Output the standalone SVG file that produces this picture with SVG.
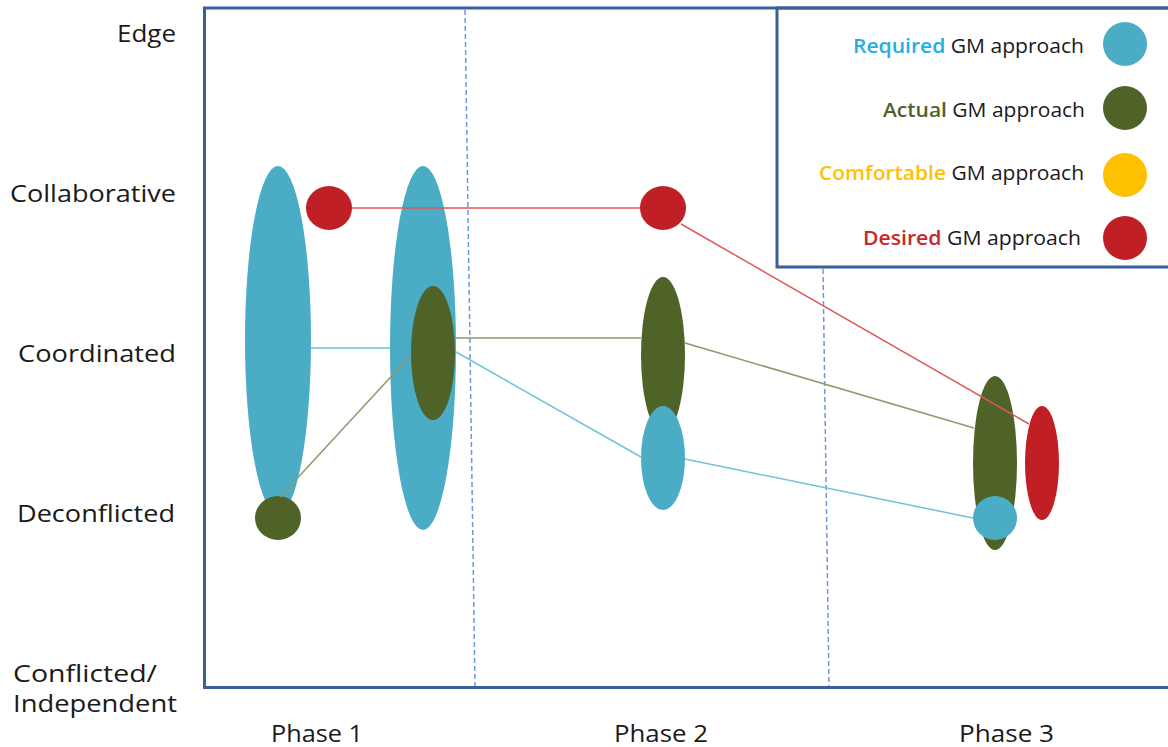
<svg xmlns="http://www.w3.org/2000/svg" width="1168" height="747" viewBox="0 0 1168 747">
<style>
text{font-family:"Open Sans","Noto Sans","Liberation Sans",sans-serif;fill:#1a1a1a}
.ax{font-size:23px}
.lg{font-size:20px}
.frame{fill:none;stroke:#3B5E98;stroke-width:3}
.dash{stroke:#6F96D6;stroke-width:1.5;stroke-dasharray:5 3;fill:none}
.req{fill:#4BACC6}
.act{fill:#4F6228}
.com{fill:#FFC000}
.des{fill:#C01F26}
.lr{stroke:#E0575B;stroke-width:1.5;fill:none}
.lb{stroke:#6EC4D8;stroke-width:1.5;fill:none}
.lgn{stroke:#8C9A6C;stroke-width:1.5;fill:none}
</style>
<rect width="1168" height="747" fill="#ffffff"/>
<g id="axes">
<path class="frame" d="M1170 8 H204.5 V687.5 H1170"/>
<line class="dash" x1="465" y1="10" x2="475" y2="686"/>
<line class="dash" x1="823" y1="269" x2="829" y2="686"/>
</g>
<g id="y-labels">
<text class="ax" x="117" y="42" textLength="59" lengthAdjust="spacingAndGlyphs">Edge</text>
<text class="ax" x="10" y="202" textLength="166" lengthAdjust="spacingAndGlyphs">Collaborative</text>
<text class="ax" x="18" y="362" textLength="158" lengthAdjust="spacingAndGlyphs">Coordinated</text>
<text class="ax" x="17" y="522" textLength="158" lengthAdjust="spacingAndGlyphs">Deconflicted</text>
<text class="ax" x="13" y="682" textLength="144" lengthAdjust="spacingAndGlyphs">Conflicted/</text>
<text class="ax" x="13" y="712" textLength="164" lengthAdjust="spacingAndGlyphs">Independent</text>
</g>
<g id="x-labels">
<text class="ax" x="271" y="742" textLength="92" lengthAdjust="spacingAndGlyphs">Phase 1</text>
<text class="ax" x="614" y="742" textLength="94" lengthAdjust="spacingAndGlyphs">Phase 2</text>
<text class="ax" x="959" y="742" textLength="95" lengthAdjust="spacingAndGlyphs">Phase 3</text>
</g>
<g id="legend">
<rect class="frame" x="777" y="8" width="400" height="259"/>
<text class="lg" x="853" y="53" textLength="231" lengthAdjust="spacingAndGlyphs"><tspan style="fill:#22AEE2;font-weight:600">Required</tspan> GM approach</text>
<ellipse class="req" cx="1125" cy="44" rx="22" ry="22"/>
<text class="lg" x="883" y="117" textLength="202" lengthAdjust="spacingAndGlyphs"><tspan style="fill:#4F6228;font-weight:600">Actual</tspan> GM approach</text>
<ellipse class="act" cx="1125" cy="108" rx="22" ry="22"/>
<text class="lg" x="819" y="180" textLength="265" lengthAdjust="spacingAndGlyphs"><tspan style="fill:#FFC000;font-weight:600">Comfortable</tspan> GM approach</text>
<ellipse class="com" cx="1125" cy="175" rx="22" ry="22"/>
<text class="lg" x="863" y="245" textLength="218" lengthAdjust="spacingAndGlyphs"><tspan style="fill:#C8262C;font-weight:600">Desired</tspan> GM approach</text>
<ellipse class="des" cx="1125" cy="238" rx="22" ry="22"/>
</g>
<g id="phase1-required-a"><ellipse class="req" cx="278" cy="340" rx="33" ry="174"/></g>
<g id="phase1-desired"><ellipse class="des" cx="329" cy="208" rx="23" ry="22"/></g>
<g id="phase1-actual-a"><ellipse class="act" cx="278" cy="518" rx="23" ry="22"/></g>
<g id="phase1-required-b"><ellipse class="req" cx="423" cy="348" rx="33" ry="182"/></g>
<g id="phase1-actual-b"><ellipse class="act" cx="433" cy="353" rx="22" ry="67"/></g>
<g id="phase2-desired"><ellipse class="des" cx="663" cy="208" rx="23" ry="22"/></g>
<g id="phase2-actual"><ellipse class="act" cx="663" cy="355" rx="22" ry="78"/></g>
<g id="phase2-required"><ellipse class="req" cx="663" cy="458" rx="22" ry="52"/></g>
<g id="phase3-actual"><ellipse class="act" cx="995" cy="463" rx="22" ry="87"/></g>
<g id="phase3-required"><ellipse class="req" cx="995" cy="518" rx="22" ry="22"/></g>
<g id="phase3-desired"><ellipse class="des" cx="1042" cy="463" rx="17" ry="57"/></g>
<g id="connectors">
<line class="lr" x1="352" y1="208" x2="640" y2="208"/>
<line class="lr" x1="681" y1="224" x2="1029" y2="424"/>
<line class="lb" x1="311" y1="348" x2="390" y2="348"/>
<line class="lb" x1="456" y1="352" x2="641" y2="457"/>
<line class="lb" x1="685" y1="459" x2="973" y2="518"/>
<line class="lgn" x1="455" y1="338" x2="641" y2="338"/>
<line class="lgn" x1="280" y1="497" x2="411" y2="355"/>
<line class="lgn" x1="685" y1="343" x2="974" y2="428"/>
</g>
</svg>
